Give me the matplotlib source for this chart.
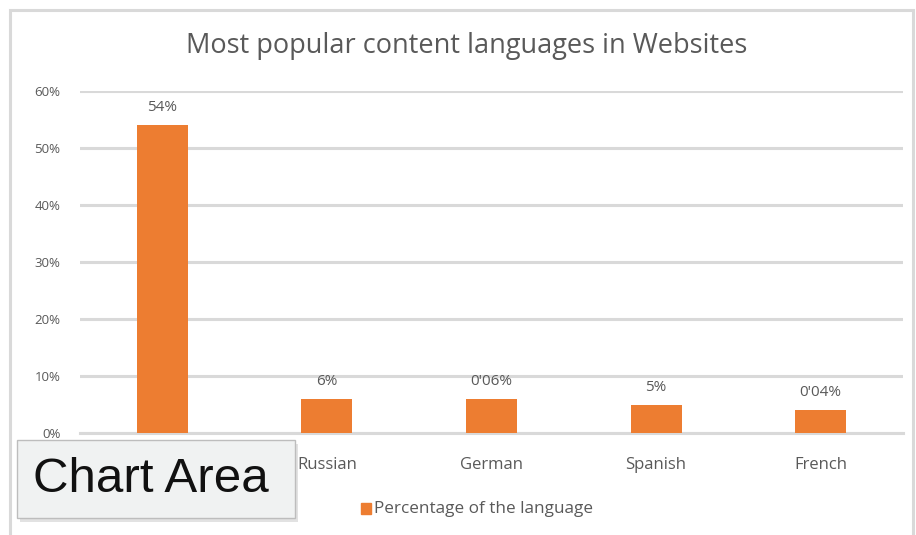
import matplotlib.pyplot as plt
from matplotlib.patches import FancyBboxPatch, Rectangle

plt.rcParams['font.family'] = ['Open Sans', 'DejaVu Sans']

languages = ['English', 'Russian', 'German', 'Spanish', 'French']
share = [54, 6, 6, 5, 4]
share_labels = ['54%', '6%', "0'06%", '5%', "0'04%"]
yticks = [0, 10, 20, 30, 40, 50, 60]

orange = '#ed7d31'
grey_txt = '#595959'
grid_col = '#d9d9d9'

W, H = 916, 535
fig = plt.figure(figsize=(W / 100, H / 100), dpi=100)
fig.patch.set_facecolor('white')

# outer chart frame
fig.patches.append(Rectangle((10 / W, -0.05), 903 / W, 1.05 - 10 / H,
                             transform=fig.transFigure, fill=False,
                             edgecolor=grid_col, linewidth=2.2, zorder=1))

ax = fig.add_axes([80 / W, 1 - 433 / H, 823 / W, (433 - 91) / H])
x = range(len(languages))
ax.bar(x, share, width=0.31, color=orange, zorder=3)

for xi, v, lab in zip(x, share, share_labels):
    ax.annotate(lab, (xi, v), xytext=(0, 7), textcoords='offset points',
                ha='center', va='bottom', fontsize=11, color=grey_txt)

ax.set_xlim(-0.5, len(languages) - 0.5)
ax.set_ylim(0, 60)
ax.set_yticks(yticks)
ax.set_yticklabels([f'{t}%' for t in yticks], fontsize=9.5, color=grey_txt)
ax.set_xticks(list(x))
ax.set_xticklabels(languages, fontsize=12, color=grey_txt)
ax.tick_params(axis='y', length=0, pad=14)
ax.tick_params(axis='x', length=0, pad=17)
ax.grid(axis='y', color=grid_col, linewidth=2.2, zorder=0)
for s in ['top', 'right', 'left']:
    ax.spines[s].set_visible(False)
ax.spines['bottom'].set_color(grid_col)
ax.spines['bottom'].set_linewidth(2.2)

fig.text(467 / W, 1 - 46 / H, 'Most popular content languages in Websites',
         ha='center', va='center', fontsize=19.5, color=grey_txt)

# legend
fig.patches.append(Rectangle((361 / W, 1 - 514 / H), 10 / W, 11 / H,
                             transform=fig.transFigure, color=orange))
fig.text(374 / W, 1 - 509 / H, 'Percentage of the language',
         ha='left', va='center', fontsize=12.3, color=grey_txt)

# hover tooltip over the chart
shadow = FancyBboxPatch((20 / W, 1 - 522 / H), 278 / W, 78 / H,
                        boxstyle='square,pad=0', transform=fig.transFigure,
                        facecolor='#cfcfcf', edgecolor='none', alpha=0.6, zorder=9)
tip = FancyBboxPatch((17 / W, 1 - 518 / H), 278 / W, 78 / H,
                     boxstyle='square,pad=0', transform=fig.transFigure,
                     facecolor='#f0f2f2', edgecolor='#bdbdbd', linewidth=1, zorder=10)
fig.patches.extend([shadow, tip])
fig.text(33 / W, 1 - 479 / H, 'Chart Area', ha='left', va='center',
         fontsize=35.5, color='#111111', family=['Liberation Sans', 'DejaVu Sans'],
         zorder=11)

fig.savefig('out.png', dpi=100)
